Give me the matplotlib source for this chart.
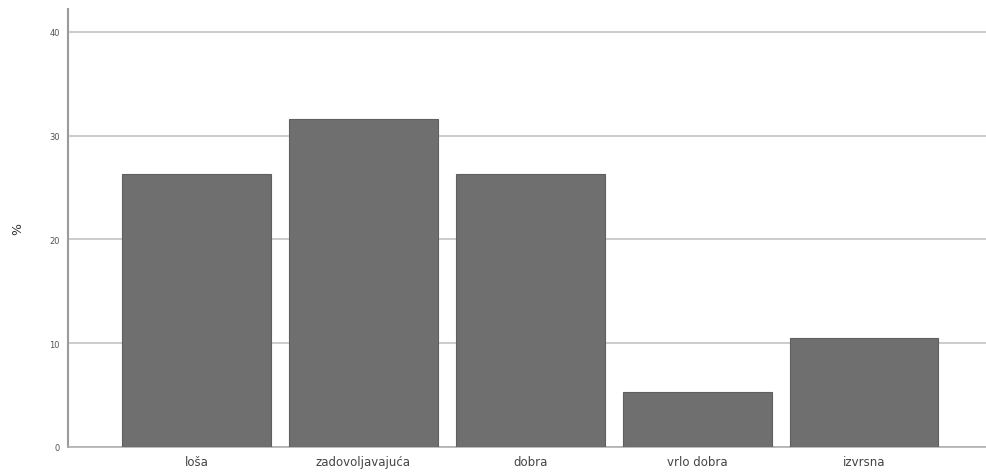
import numpy as np
import matplotlib
matplotlib.use("Agg")
import matplotlib.pyplot as plt

# data (percent)
categories = ["loša", "zadovoljavajuća", "dobra", "vrlo dobra", "izvrsna"]
percent = [26.3, 31.6, 26.3, 5.3, 10.5]
y_ticks = [0, 10, 20, 30, 40]

fig = plt.figure(figsize=(9.86, 4.77), dpi=100)
ax = fig.add_axes([0.069, 0.061, 0.931, 0.918])

x = np.arange(len(categories))
ax.bar(x, percent, width=0.89, color="#6f6f6f", edgecolor="#5f5f5f",
       linewidth=0.8, zorder=3)

ax.set_xlim(-0.77, 4.73)
ax.set_ylim(0, 42.2)
ax.set_yticks(y_ticks)
ax.set_yticklabels([str(t) for t in y_ticks], fontsize=6, color="#555555")
ax.set_xticks(x)
ax.set_xticklabels(categories, fontsize=8.5, color="#444444")
ax.tick_params(axis="both", length=0, pad=6)
ax.set_ylabel("%", fontsize=9, color="#333333", labelpad=18)

ax.yaxis.grid(True, color="#c8c8c8", linewidth=1.3, zorder=0)
for side in ["top", "right"]:
    ax.spines[side].set_visible(False)
ax.spines["left"].set_color("#9a9a9a")
ax.spines["left"].set_linewidth(1.5)
ax.spines["bottom"].set_color("#b0b0b0")
ax.spines["bottom"].set_linewidth(1.2)

fig.savefig("out.png", dpi=100)
